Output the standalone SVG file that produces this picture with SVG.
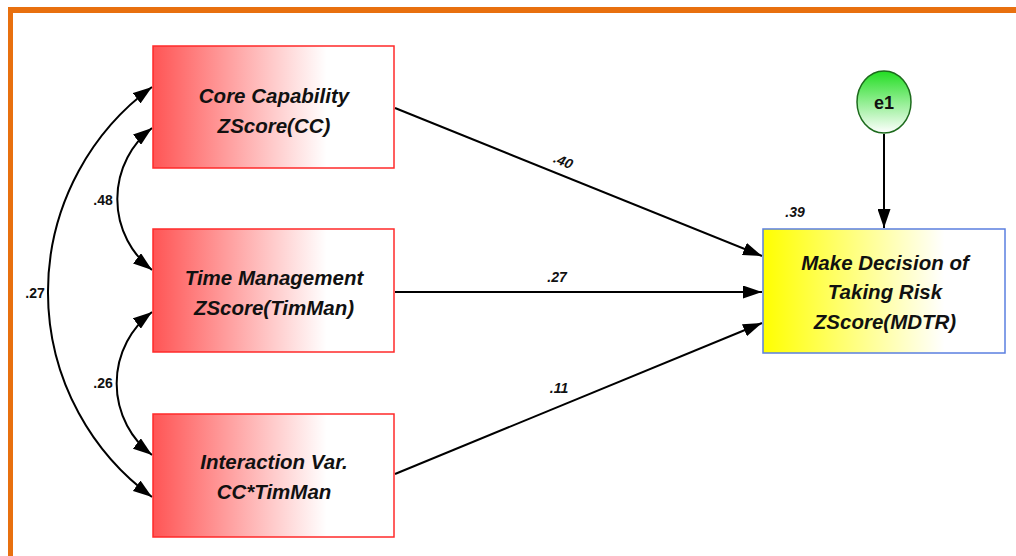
<svg xmlns="http://www.w3.org/2000/svg" width="1016" height="556" viewBox="0 0 1016 556">
<defs>
<linearGradient id="gRed" x1="0" y1="0" x2="1" y2="0">
<stop offset="0" stop-color="#ff5555"/>
<stop offset="0.72" stop-color="#ffffff"/>
<stop offset="1" stop-color="#ffffff"/>
</linearGradient>
<linearGradient id="gYel" x1="0" y1="0" x2="1" y2="0">
<stop offset="0" stop-color="#ffff00"/>
<stop offset="0.75" stop-color="#ffffff"/>
<stop offset="1" stop-color="#ffffff"/>
</linearGradient>
<linearGradient id="gGrn" x1="0" y1="0" x2="0" y2="1">
<stop offset="0" stop-color="#22dd22"/>
<stop offset="1" stop-color="#ffffff"/>
</linearGradient>
<marker id="ah" viewBox="0 0 19 13" refX="19" refY="6.5" markerWidth="19" markerHeight="13" markerUnits="userSpaceOnUse" orient="auto-start-reverse">
<path d="M0,0 L19,6.5 L0,13 Z" fill="#000"/>
</marker>
</defs>
<style>
.box{stroke:#ff2a2a;stroke-width:1.5;fill:url(#gRed)}
.lbl{font-family:"Liberation Sans",Arial,sans-serif;font-weight:bold;font-style:italic;font-size:20.5px;fill:#111;text-anchor:middle}
.num{font-family:"Liberation Sans",Arial,sans-serif;font-weight:bold;font-style:italic;font-size:14px;fill:#111;text-anchor:middle}
.cov{font-family:"Liberation Sans",Arial,sans-serif;font-weight:bold;font-size:14px;fill:#111;text-anchor:middle}
.ln{stroke:#000;stroke-width:2;fill:none}
</style>
<rect width="1016" height="556" fill="#ffffff"/>
<g id="frame">
<rect x="8" y="7" width="1008" height="6" fill="#e8700f"/>
<rect x="8" y="7" width="5" height="549" fill="#e8700f"/>
</g>
<g id="connectors">
<line class="ln" x1="395" y1="108" x2="762" y2="256" marker-end="url(#ah)"/>
<line class="ln" x1="395" y1="292" x2="762" y2="292" marker-end="url(#ah)"/>
<line class="ln" x1="395" y1="474" x2="762" y2="323" marker-end="url(#ah)"/>
<line class="ln" x1="884" y1="134" x2="884" y2="228" marker-end="url(#ah)"/>
<path class="ln" d="M152,128 A90,90 0 0 0 152,270" marker-start="url(#ah)" marker-end="url(#ah)"/>
<path class="ln" d="M152,312 A90,90 0 0 0 152,455" marker-start="url(#ah)" marker-end="url(#ah)"/>
<path class="ln" d="M152,87 A254,254 0 0 0 152,497" marker-start="url(#ah)" marker-end="url(#ah)"/>
<text class="num" x="563" y="166" transform="rotate(22 563 162)">.40</text>
<text class="num" x="557" y="282">.27</text>
<text class="num" x="559" y="393">.11</text>
<text class="num" x="795" y="217">.39</text>
<text class="cov" x="103" y="205">.48</text>
<text class="cov" x="103" y="388">.26</text>
<text class="cov" x="35" y="298">.27</text>
</g>
<g id="cc">
<rect class="box" x="153" y="46" width="241" height="122"/>
<text class="lbl" x="274" y="103">Core Capability</text>
<text class="lbl" x="274" y="133">ZScore(CC)</text>
</g>
<g id="tm">
<rect class="box" x="153" y="229" width="241" height="123"/>
<text class="lbl" x="274" y="285">Time Management</text>
<text class="lbl" x="274" y="315">ZScore(TimMan)</text>
</g>
<g id="iv">
<rect class="box" x="153" y="414" width="241" height="123"/>
<text class="lbl" x="274" y="469">Interaction Var.</text>
<text class="lbl" x="274" y="499">CC*TimMan</text>
</g>
<g id="mdtr">
<rect x="763" y="229" width="242" height="124" fill="url(#gYel)" stroke="#5b7fe0" stroke-width="1.5"/>
<text class="lbl" x="885" y="270">Make Decision of</text>
<text class="lbl" x="885" y="299">Taking Risk</text>
<text class="lbl" x="885" y="329">ZScore(MDTR)</text>
</g>
<g id="e1">
<ellipse cx="884" cy="102" rx="27" ry="31" fill="url(#gGrn)" stroke="#1d6b1d" stroke-width="1.5"/>
<text x="884" y="109" font-family="Liberation Sans,Arial,sans-serif" font-weight="bold" font-size="18" text-anchor="middle" fill="#111">e1</text>
</g>
</svg>
